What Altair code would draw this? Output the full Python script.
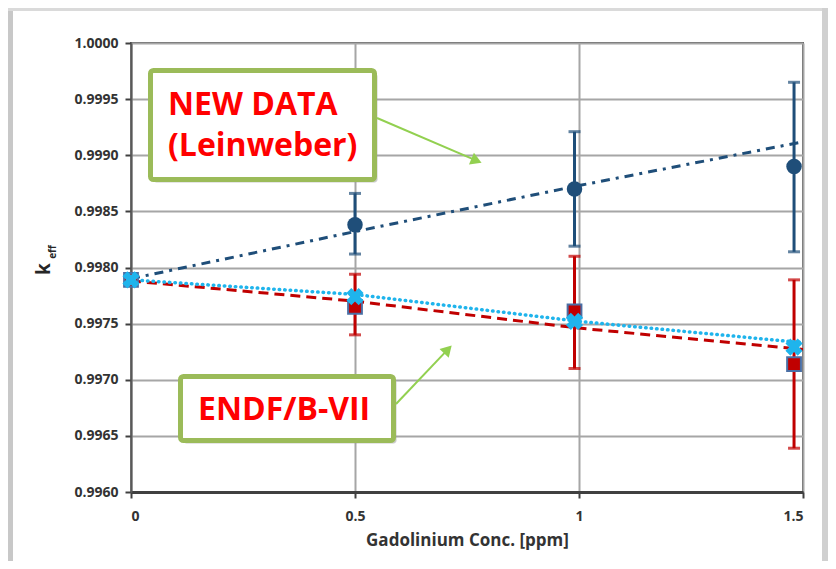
import altair as alt
import pandas as pd

# ---------------- data ----------------
conc = [0.0, 0.5, 0.99, 1.48]

new_k = [0.99789, 0.99838, 0.99870, 0.99890]
new_lo = [None, 0.99812, 0.99819, 0.99814]
new_hi = [None, 0.99866, 0.99921, 0.99965]

endf_k = [0.99789, 0.99765, 0.99761, 0.99714]
endf_lo = [None, 0.99740, 0.99710, 0.99639]
endf_hi = [None, 0.99794, 0.99810, 0.99789]

calc_k = [0.99789, 0.99774, 0.99752, 0.99729]

trend_x = [0.0, 0.5, 1.0, 1.5]
new_trend = [0.99790, 0.99832, 0.99873, 0.99912]
endf_trend = [0.99788, 0.99770, 0.99746, 0.99727]
calc_trend = [0.99789, 0.99776, 0.99752, 0.99733]

y_ticks = [0.9960, 0.9965, 0.9970, 0.9975, 0.9980, 0.9985, 0.9990, 0.9995, 1.0000]
x_ticks = [0, 0.5, 1, 1.5]

annot_text = [["NEW DATA", "(Leinweber)"], ["ENDF/B-VII"]]

NAVY = "#1F4E79"
RED = "#C00000"
LBLUE = "#1FB4EC"
BOXC = "#9BBB59"
ARROWC = "#92D050"
FONT = "Open Sans"

pts = pd.DataFrame({"x": conc, "new": new_k, "new_lo": new_lo, "new_hi": new_hi,
                    "endf": endf_k, "endf_lo": endf_lo, "endf_hi": endf_hi, "calc": calc_k})
err = pts.dropna()
tr = pd.DataFrame({"x": trend_x, "new": new_trend, "endf": endf_trend, "calc": calc_trend})

xs = alt.Scale(domain=[0, 1.5], nice=False, zero=False)
ys = alt.Scale(domain=[0.996, 1.0], nice=False, zero=False)

xaxis = alt.Axis(values=x_ticks, labelExpr="datum.value", title="Gadolinium Conc. [ppm]")
yaxis = alt.Axis(values=y_ticks, format=".4f", title="")

one = pd.DataFrame({"a": [0]})


def prect(x1, x2, y1, y2, **kw):
    return alt.Chart(one).mark_rect(**kw).encode(
        x=alt.value(x1), x2=alt.value(x2), y=alt.value(y1), y2=alt.value(y2))


def ptext(t, x, y, **kw):
    return alt.Chart(one).mark_text(**kw).encode(x=alt.value(x), y=alt.value(y), text=alt.value(t))


def X(field):
    return alt.X(field, scale=xs, axis=xaxis)


def Y(field):
    return alt.Y(field, scale=ys, axis=yaxis)


# frame strips (gray shadow around white panel)
frame = [prect(-123, -118, -35, 530, color="#C8C8C8"),
         prect(-123, 697, -35, -32, color="#DADADA"),
         prect(691, 697, -35, 530, color="#D0D0D0")]

layers = []
# error bars
for c, lo, hi in [(NAVY, "new_lo", "new_hi"), (RED, "endf_lo", "endf_hi")]:
    layers.append(alt.Chart(err).mark_rule(color=c, strokeWidth=3).encode(
        x=X("x:Q"), y=Y(lo + ":Q"), y2=hi + ":Q"))
    for f in (lo, hi):
        layers.append(alt.Chart(err).mark_tick(color=c, thickness=3, size=12,
                                               orient="horizontal").encode(
            x=X("x:Q"), y=Y(f + ":Q")))

# trend lines
layers.append(alt.Chart(tr).mark_line(color=RED, strokeWidth=3, strokeDash=[10, 6], clip=True).encode(
    x=X("x:Q"), y=Y("endf:Q")))
layers.append(alt.Chart(tr).mark_line(color=LBLUE, strokeWidth=3.5, strokeDash=[0.5, 5],
                                      strokeCap="round", clip=True).encode(
    x=X("x:Q"), y=Y("calc:Q")))
layers.append(alt.Chart(tr).mark_line(color=NAVY, strokeWidth=3, strokeDash=[9, 6, 3, 6],
                                      clip=True).encode(x=X("x:Q"), y=Y("new:Q")))

# markers
layers.append(alt.Chart(pts).mark_point(shape="square", filled=True, fill=RED, stroke="#4A6FA5",
                                        strokeWidth=2, size=190, opacity=1).encode(
    x=X("x:Q"), y=Y("endf:Q")))
layers.append(alt.Chart(pts).mark_point(shape="cross", filled=True, color=LBLUE, angle=45,
                                        size=300, opacity=1).encode(x=X("x:Q"), y=Y("calc:Q")))
layers.append(alt.Chart(pts.iloc[1:]).mark_point(shape="circle", filled=True, color=NAVY, size=240,
                                                 opacity=1).encode(x=X("x:Q"), y=Y("new:Q")))

# annotation boxes, labels, arrows (pixel positions inside the plot area)
annot = []
for (x1, x2, y1, y2) in [(19.5, 243.5, 27.5, 136.5), (49.5, 262.5, 333.5, 397.5)]:
    annot.append(prect(x1 + 3, x2 + 3, y1 + 3, y2 + 3, color="#9A9A9A", opacity=0.5, cornerRadius=3))
    annot.append(prect(x1, x2, y1, y2, fill="white", stroke=BOXC, strokeWidth=5, cornerRadius=3))

tstyle = dict(font=FONT, fontSize=32, fontWeight="bold", color="#FF0000", align="left",
              baseline="alphabetic")
annot.append(ptext(annot_text[0][0], 37, 72, **tstyle))
annot.append(ptext(annot_text[0][1], 37, 113, **tstyle))
annot.append(ptext(annot_text[1][0], 67, 377, **tstyle))

for (x1, y1, x2, y2, ang) in [(246, 75, 345.5, 117.7, 23), (265, 361, 316.9, 306.4, 313.5)]:
    annot.append(alt.Chart(one).mark_rule(color=ARROWC, strokeWidth=2).encode(
        x=alt.value(x1), y=alt.value(y1), x2=alt.value(x2), y2=alt.value(y2)))
    annot.append(alt.Chart(one).mark_point(shape="triangle-right", filled=True, color=ARROWC,
                                           size=160, opacity=1, angle=ang).encode(
        x=alt.value(x2), y=alt.value(y2)))

# y axis title k_eff
annot.append(ptext("k", -81, 226, font=FONT, fontSize=19, fontWeight="bold", color="#262626",
                   angle=270, align="center", baseline="alphabetic"))
annot.append(ptext("eff", -75, 209, font=FONT, fontSize=10, fontWeight="bold", color="#262626",
                   angle=270, align="center", baseline="alphabetic"))

chart = alt.layer(*layers, *frame, *annot).properties(
    width=672, height=449,
    autosize=alt.AutoSizeParams(type="none"),
    padding={"left": 123, "top": 35, "right": 25, "bottom": 69},
    background="white",
).configure_view(
    stroke="#595959", strokeWidth=2
).configure_axis(
    grid=True, gridColor="#A6A6A6", gridWidth=2, tickColor="#404040", tickSize=6, tickWidth=2,
    labelFont=FONT, labelFontSize=14, labelFontWeight="bold", labelColor="#333333",
    titleFont=FONT, titleFontSize=17, titleFontWeight="bold", titleColor="#333333"
).configure_axisX(
    domainColor="#404040", domainWidth=3, labelPadding=11, titlePadding=9
).configure_axisY(
    domainColor="#595959", domainWidth=2, labelPadding=7
)

chart.save("out.html", embed_options={"renderer": "svg", "actions": False})
